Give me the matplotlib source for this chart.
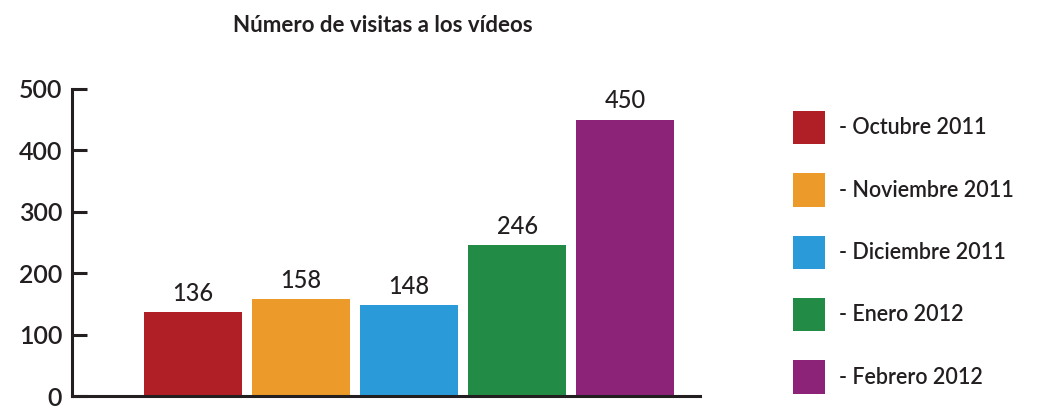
import matplotlib.pyplot as plt
from matplotlib import rc

rc('font', **{'family': ['Lato', 'DejaVu Sans']})

# data
meses   = ['- Octubre 2011', '- Noviembre 2011', '- Diciembre 2011', '- Enero 2012', '- Febrero 2012']
visitas = [136, 158, 148, 246, 450]
colores = ['#b11f26', '#ec9a2a', '#2a9bd8', '#228b45', '#8c2379']
yticks  = [0, 100, 200, 300, 400, 500]

fig = plt.figure(figsize=(10.42, 4.09), dpi=100)
# axes box: y=0 at ~396 px, y=500 at ~89 px
ax = fig.add_axes([72/1042, 1-396/409, (700-72)/1042, (396-89)/409])

x = list(range(len(visitas)))
bars = ax.bar(x, visitas, width=98/108, color=colores, label=meses)
for b, v in zip(bars, visitas):
    ax.text(b.get_x() + b.get_width()/2, v + 12, str(v), ha='center', va='bottom',
            fontsize=17, fontweight='medium', color='#231f20')

ax.set_xlim(-1.12, 4.69)
ax.set_ylim(0, 500)
ax.set_yticks(yticks)
ax.set_xticks([])
ax.tick_params(axis='y', direction='in', length=11, width=2.2, labelsize=18,
               pad=7, colors='#231f20')
for lbl in ax.get_yticklabels():
    lbl.set_fontweight('semibold')
for s in ['top', 'right']:
    ax.spines[s].set_visible(False)
for s in ['left', 'bottom']:
    ax.spines[s].set_linewidth(2.2)
    ax.spines[s].set_color('#231f20')

fig.text(383/1042, 1-25/409, 'Número de visitas a los vídeos', ha='center', va='center',
         fontsize=16, fontweight='bold', color='#231f20')

fig.legend(handles=bars, labels=meses, loc='upper left', bbox_to_anchor=(793/1042, 1-111/409),
           frameon=False, prop={'size': 15.5, 'weight': 'semibold'},
           handlelength=1.5, handleheight=2.0,
           labelspacing=1.35, handletextpad=0.65, borderpad=0, borderaxespad=0,
           labelcolor='#231f20')

fig.savefig('out.png', dpi=100, facecolor='white')
